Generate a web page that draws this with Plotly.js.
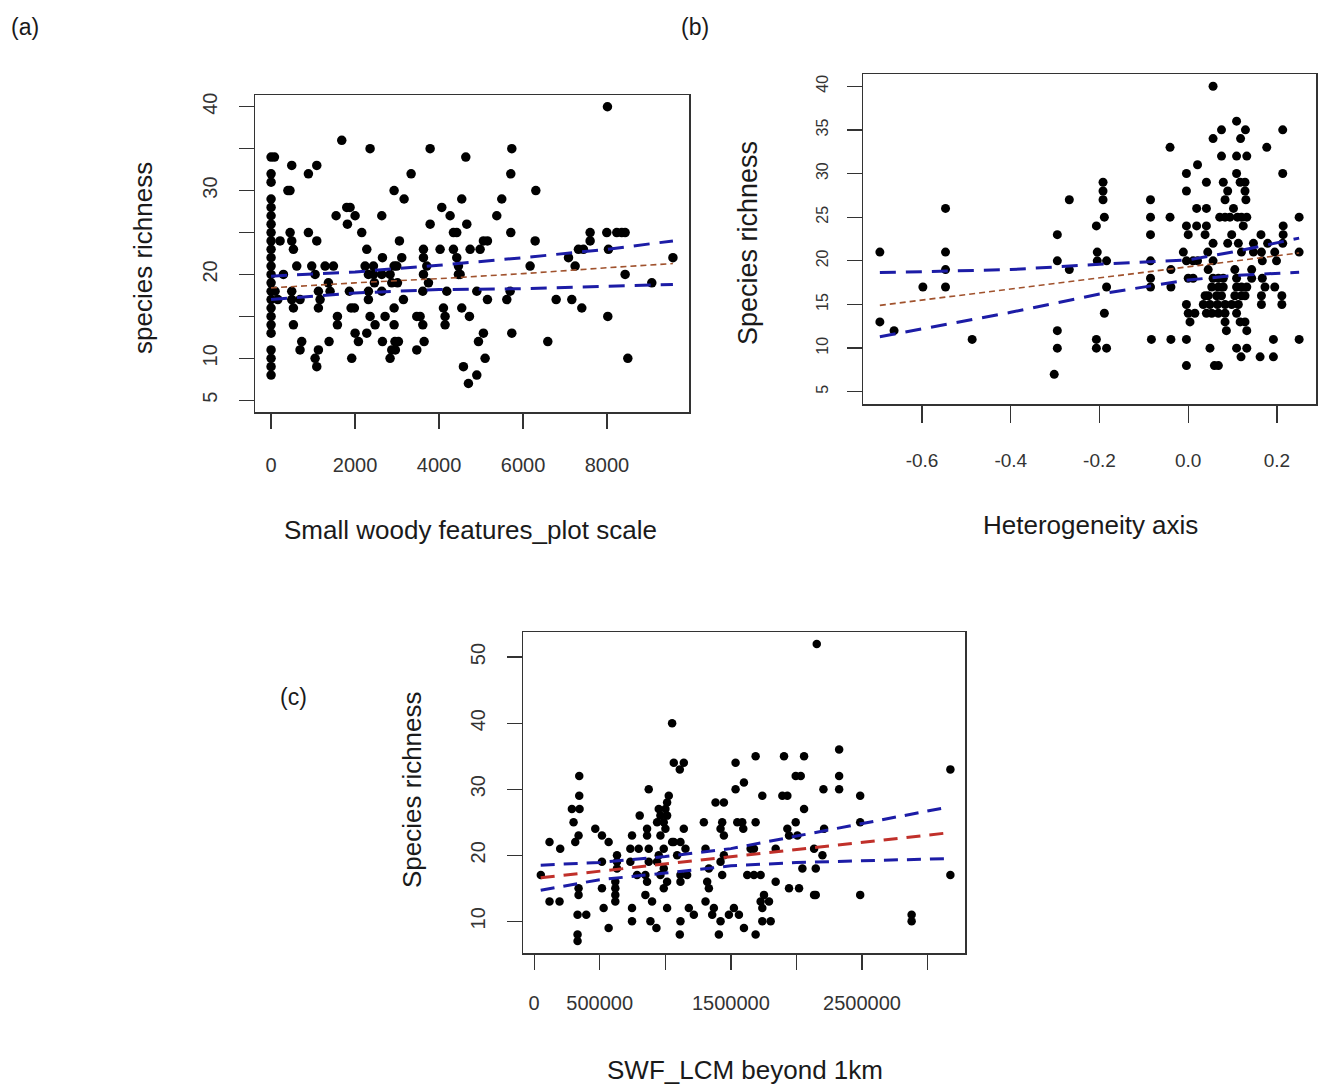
<!DOCTYPE html>
<html>
<head>
<meta charset="utf-8">
<script src="https://cdn.plot.ly/plotly-3.0.1.min.js"></script>
<style>html,body{margin:0;padding:0;background:#fff;}#chart{width:1319px;height:1086px;}</style>
</head>
<body>
<div id="chart"></div>
<script>
// ---------- Panel (a): Small woody features_plot scale ----------
const aX = [0,80,0,0,0,0,0,0,0,0,0,0,0,0,0,0,0,0,0,0,0,0,0,0,0,
95,160,214,294,400,450,453,492,532,611,492,492,532,532,492,
690,730,690,
889,1088,889,1088,968,1048,1127,1167,1127,1127,1048,1088,
1286,1485,1365,1405,1381,
1548,1580,1580,1683,
1802,1881,1818,2001,1865,1905,1984,1921,2001,2080,
2159,2279,2239,2318,2318,2318,2279,2358,2358,
2438,2438,2461,2477,
2636,2652,2636,2636,2652,2715,
2834,2874,2834,2874,
2930,2930,2930,2930,2993,3010,3033,2950,2960,
3057,3112,3152,3168,
3335,
3470,3470,3549,3613,3613,3629,3629,3629,3708,3645,
3788,3788,3748,
4025,4065,4105,4144,4144,4184,
4264,4343,4422,4343,4422,4462,4462,4502,
4541,4637,4661,4541,4724,4581,4700,4899,
4740,4899,4978,5057,5153,5153,5057,4939,5097,
5375,5494,5614,5693,5709,5709,5733,5733,
6169,6289,6305,6590,
6789,7083,7162,7241,7400,7320,7439,
7598,7598,
7995,8035,8019,8011,
8233,8352,8432,8432,8496,
9067,9570];
const aY = [34,34,32,31,29,28,27,26,25,24,23,22,21,20,19,18,17,16,15,14,13,11,10,9,8,
18,17,24,20,30,30,25,24,23,21,18,17,16,14,33,
11,12,17,
32,33,25,24,21,20,18,17,16,11,10,9,
21,21,19,18,12,
27,15,14,36,
28,28,26,27,18,16,16,10,13,12,
25,23,21,20,18,17,13,15,35,
21,20,19,14,
27,22,20,18,12,15,
20,19,10,11,
30,21,16,14,21,19,12,12,11,
24,22,17,29,
32,
11,15,15,14,18,20,23,22,21,12,
35,26,19,
23,28,16,15,14,18,
27,25,25,23,22,21,20,20,
29,34,26,16,15,9,7,8,
23,18,23,24,24,17,13,12,10,
27,29,17,18,25,32,35,13,
21,24,30,12,
17,22,17,21,16,23,23,
25,24,
25,23,15,40,
25,25,25,20,10,
19,22];
const fitA_x   = [0, 2000, 4000, 6000, 8000, 9570];
const fitA_fit = [18.4, 19.0, 19.5, 20.1, 20.8, 21.3];
const fitA_up  = [19.8, 20.3, 21.1, 22.0, 23.0, 24.0];
const fitA_lo  = [17.0, 17.8, 18.2, 18.3, 18.6, 18.8];
const tickA_x = [0, 2000, 4000, 6000, 8000];
const tickA_xtext = ['0','2000','4000','6000','8000'];
const tickA_y = [5,10,15,20,25,30,35,40];
const tickA_ytext = ['5','10','','20','','30','','40'];

// ---------- Panel (b): Heterogeneity axis ----------
const bX = [-0.695,-0.695,-0.663,-0.598,-0.547,-0.547,-0.547,-0.547,-0.487,
-0.302,-0.295,-0.295,-0.295,-0.295,-0.268,-0.268,
-0.207,-0.205,-0.205,-0.207,-0.207,
-0.192,-0.192,-0.192,-0.189,-0.184,-0.184,-0.189,-0.184,
-0.085,-0.085,-0.085,-0.085,-0.085,-0.085,-0.083,
-0.041,-0.041,-0.039,-0.039,-0.039,
-0.004,-0.004,-0.004,0,-0.011,-0.004,0.011,0.021,0,0.011,-0.004,0,0.015,0.004,-0.004,-0.004,
0.021,0.019,0.041,0.019,0.041,0.038,0.041,0.044,0.045,
0.056,0.056,0.056,0.056,0.056,0.053,0.045,0.038,0.034,0.049,0.041,0.053,0.049,0.059,0.068,
0.075,0.075,0.079,0.083,0.089,0.071,0.083,0.094,0.102,0.098,0.089,0.068,0.079,0.068,0.079,0.064,0.075,0.066,0.083,0.068,0.083,0.083,0.086,
0.109,0.118,0.109,0.109,0.117,0.128,0.128,0.13,0.111,0.12,0.132,0.124,0.113,0.12,0.105,0.109,0.109,0.12,0.105,0.12,0.113,0.098,0.109,0.117,0.128,0.132,0.109,0.132,0.119,
0.129,0.132,0.147,0.147,0.143,0.143,0.132,0.128,
0.164,0.165,0.167,0.167,0.173,0.165,0.165,0.162,
0.177,0.179,0.195,0.199,0.195,0.192,0.192,
0.213,0.213,0.214,0.214,0.213,0.211,0.211,
0.25,0.25,0.25];
const bY = [21,13,12,17,26,21,19,17,11,
7,23,20,12,10,27,19,
24,21,20,11,10,
29,28,27,25,20,17,14,10,
27,25,23,20,18,17,11,
33,25,19,17,11,
30,28,24,23,21,20,20,20,18,18,15,14,14,13,11,8,
31,26,26,24,24,23,29,21,19,
40,34,22,20,18,17,16,16,15,15,14,14,10,8,8,
35,32,29,27,28,25,25,25,26,23,22,18,18,17,17,16,16,15,15,14,14,13,12,
36,34,32,30,29,29,28,27,25,25,25,24,22,21,19,18,17,17,16,16,15,15,14,13,13,12,10,10,9,
35,32,22,21,19,18,17,16,
23,21,20,18,17,16,15,9,
33,22,21,20,17,11,9,
35,30,24,23,22,16,15,
25,21,11];
const fitB_x   = [-0.695, -0.4, -0.2, 0, 0.1, 0.25];
const fitB_fit = [14.9, 16.8, 18.05, 19.3, 19.95, 20.9];
const fitB_up  = [18.65, 19.0, 19.6, 20.1, 21.0, 22.6];
const fitB_lo  = [11.3, 14.1, 16.2, 17.8, 18.3, 18.7];
const tickB_x = [-0.6, -0.4, -0.2, 0, 0.2];
const tickB_xtext = ['-0.6','-0.4','-0.2','0.0','0.2'];
const tickB_y = [5,10,15,20,25,30,35,40];
const tickB_ytext = ['5','10','15','20','25','30','35','40'];

// ---------- Panel (c): SWF_LCM beyond 1km ----------
const cX = [50900,117200,117200,193600,198700,
343800,343800,287800,346400,300500,338800,313300,338800,338800,331100,397300,331100,331100,
466100,517000,568000,517000,517000,529800,568000,
631700,631700,631700,618900,618900,618900,618900,
746300,733500,733500,746300,746300,
804800,797200,784500,
873600,860900,860900,873600,873600,848200,860900,848200,899100,886400,932200,
937300,950000,962800,1026400,1013700,1001000,1013700,988200,1001000,962800,1051900,988200,950000,937300,988200,962800,1013700,988200,1013700,
1051900,1064600,1141100,1110500,
1064600,1115600,1153800,1141100,1090100,1115600,1166500,1115600,1179300,1217500,1115600,1110500,
1293900,1306600,1332100,1319300,1332100,1306600,1370300,1357600,1421200,1408500,
1383000,1446700,1433900,1421200,1446700,1446700,1421200,1433900,1484900,1523100,1561300,
1535800,1535800,1599500,1548600,1586800,1594400,1625000,1599500,1688700,
1688700,1688700,1650500,1675900,1675900,1726900,1739600,1752300,1726900,1739600,1739600,1803300,1790500,
1841500,1841500,
1905200,1892400,1930600,1930600,1943300,1943300,2019800,
1994300,2032500,2058000,2058000,1994300,2007000,2045200,2134400,2147100,
2154800,
2134400,2147100,2198100,2205700,2210800,
2325400,2325400,2325400,
2485900,2485900,2485900,
2878100,2878100,
3173600,3173600];
const cY = [17,22,13,13,21,
32,29,27,27,25,23,22,15,14,11,11,8,7,
24,23,22,19,15,12,9,
20,19,18,16,15,14,13,
23,21,19,12,10,
26,21,17,
30,24,23,21,19,17,16,14,13,10,9,
25,27,26,29,28,27,26,25,24,23,22,21,20,19,18,17,16,15,12,
40,34,34,33,
22,22,21,24,20,17,17,16,12,11,10,8,
25,21,18,16,15,13,12,11,10,8,
28,28,25,24,23,20,19,17,11,12,11,
34,30,31,25,25,24,17,9,8,
35,25,21,21,17,17,29,14,13,12,10,10,13,
21,16,
35,29,29,24,23,15,15,
32,32,35,27,25,23,18,14,14,
52,
21,18,20,30,24,
36,32,30,
29,25,14,
11,10,
33,17];
const fitC_x   = [50000, 500000, 1000000, 1500000, 2000000, 2500000, 3160000];
const fitC_fit = [16.6, 17.6, 18.7, 19.8, 20.9, 22.0, 23.4];
const fitC_up  = [18.5, 18.9, 19.8, 21.0, 22.9, 24.8, 27.3];
const fitC_lo  = [14.7, 16.3, 17.3, 18.4, 18.9, 19.2, 19.5];
const tickC_x = [0, 500000, 1000000, 1500000, 2000000, 2500000, 3000000];
const tickC_xtext = ['0','500000','','1500000','','2500000',''];
const tickC_y = [10,20,30,40,50];
const tickC_ytext = ['10','20','30','40','50'];

// ---------- Drawing ----------
const W = 1319, H = 1086;
const fx = p => p / W;
const fy = p => 1 - p / H;
const FONT = 'Liberation Sans, Arial, sans-serif';
const BLUE = '#1c1ca6';
const pt = (x, y, ax, size) => ({x: x, y: y, type: 'scatter', mode: 'markers', xaxis: ax[0], yaxis: ax[1],
  marker: {color: '#000', size: size, line: {width: 0}}, hoverinfo: 'skip'});
const ln = (x, y, ax, color, width, dash) => ({x: x, y: y, type: 'scatter', mode: 'lines', xaxis: ax[0], yaxis: ax[1],
  line: {color: color, width: width, dash: dash}, hoverinfo: 'skip'});

const A = ['x', 'y'], B = ['x2', 'y2'], C = ['x3', 'y3'];
const data = [
  pt(aX, aY, A, 9.5),
  ln(fitA_x, fitA_fit, A, '#a0522d', 1.6, '6px,4px'),
  ln(fitA_x, fitA_up, A, BLUE, 3, '16px,10px'),
  ln(fitA_x, fitA_lo, A, BLUE, 3, '16px,10px'),
  pt(bX, bY, B, 9),
  ln(fitB_x, fitB_fit, B, '#a0522d', 1.6, '6px,4px'),
  ln(fitB_x, fitB_up, B, BLUE, 3, '16px,10px'),
  ln(fitB_x, fitB_lo, B, BLUE, 3, '16px,10px'),
  pt(cX, cY, C, 8.5),
  ln(fitC_x, fitC_fit, C, '#c0302a', 3, '14px,9px'),
  ln(fitC_x, fitC_up, C, BLUE, 3, '14px,9px'),
  ln(fitC_x, fitC_lo, C, BLUE, 3, '14px,9px')
];

function axis(domain, range, vals, text, opts) {
  return Object.assign({
    domain: domain, range: range, tickmode: 'array', tickvals: vals, ticktext: text,
    ticks: 'outside', ticklen: 15, tickwidth: 1.3, tickcolor: '#333',
    showline: true, mirror: true, linecolor: '#333', linewidth: 1.5,
    showgrid: false, zeroline: false, fixedrange: true,
    tickfont: {family: FONT, size: 20, color: '#333'}
  }, opts || {});
}

const layout = {
  width: W, height: H, margin: {l: 0, r: 0, t: 0, b: 0},
  paper_bgcolor: '#fff', plot_bgcolor: '#fff', showlegend: false,
  xaxis:  axis([fx(255), fx(689)], [-383, 9953], tickA_x, tickA_xtext, {anchor: 'y', ticklabelstandoff: 19}),
  yaxis:  axis([fy(412), fy(95)], [3.6, 41.4], tickA_y, tickA_ytext, {anchor: 'x', tickangle: -90, ticklabelstandoff: 14}),
  xaxis2: axis([fx(863), fx(1316)], [-0.733, 0.288], tickB_x, tickB_xtext, {anchor: 'y2', ticklen: 17, ticklabelstandoff: 22, tickfont: {family: FONT, size: 19, color: '#333'}}),
  yaxis2: axis([fy(404), fy(74)], [3.6, 41.4], tickB_y, tickB_ytext, {anchor: 'x2', tickangle: -90, ticklabelstandoff: 12, tickfont: {family: FONT, size: 16, color: '#333'}}),
  xaxis3: axis([fx(523), fx(965)], [-85000, 3285000], tickC_x, tickC_xtext, {anchor: 'y3', ticklabelstandoff: 16}),
  yaxis3: axis([fy(953), fy(632)], [5.2, 53.8], tickC_y, tickC_ytext, {anchor: 'x3', tickangle: -90, ticklabelstandoff: 14}),
  annotations: [
    {text: '(a)', x: fx(25), y: fy(27), size: 23},
    {text: '(b)', x: fx(695), y: fy(27), size: 23},
    {text: '(c)', x: fx(293), y: fy(697), size: 23},
    {text: 'Small woody features_plot scale', x: fx(470), y: fy(530), size: 26},
    {text: 'species richness', x: fx(143), y: fy(258), size: 26, angle: -90},
    {text: 'Heterogeneity axis', x: fx(1090), y: fy(525), size: 26},
    {text: 'Species richness', x: fx(748), y: fy(243), size: 27, angle: -90},
    {text: 'SWF_LCM beyond 1km', x: fx(745), y: fy(1070), size: 26},
    {text: 'Species richness', x: fx(412), y: fy(790), size: 26, angle: -90}
  ].map(a => ({text: a.text, x: a.x, y: a.y, xref: 'paper', yref: 'paper', showarrow: false,
    xanchor: 'center', yanchor: 'middle', textangle: a.angle || 0,
    font: {family: FONT, size: a.size, color: '#1a1a1a'}}))
};

Plotly.newPlot('chart', data, layout, {staticPlot: true, displayModeBar: false});
</script>
</body>
</html>
